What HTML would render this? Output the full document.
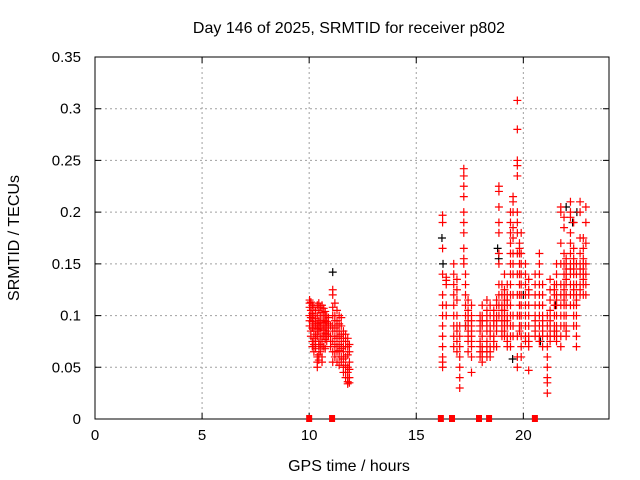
<!DOCTYPE html>
<html><head><meta charset="utf-8"><style>
html,body{margin:0;padding:0;background:#fff;}
svg{display:block;font-family:"Liberation Sans",sans-serif;}
</style></head><body>
<svg id="chart" width="640" height="480" viewBox="0 0 640 480">
<rect x="0" y="0" width="640" height="480" fill="#fff"/>
<g id="grid"></g>
<g id="axes"></g>
<g id="blackPts"></g>
<g id="redPts"></g>
<g id="gaps"></g>
<text x="349" y="33" font-size="16" text-anchor="middle">Day 146 of 2025, SRMTID for receiver p802</text>
<text x="349" y="471" font-size="16" text-anchor="middle">GPS time / hours</text>
<text transform="translate(19,238) rotate(-90)" font-size="16" text-anchor="middle">SRMTID / TECUs</text>
</svg>
<script>
const xTicks = [0,5,10,15,20];
const yTicks = [0,0.05,0.1,0.15,0.2,0.25,0.3,0.35];
const yTickLabels = ["0","0.05","0.1","0.15","0.2","0.25","0.3","0.35"];
const redColHours = [10.02,10.08,10.15,10.22,10.3,10.38,10.45,10.52,10.6,10.68,10.75,10.82,10.9,11.0,11.1,11.2,11.3,11.4,11.5,11.6,11.7,11.8,11.88,
 16.23,16.4,16.75,16.9,17.03,17.22,17.3,17.42,17.58,17.98,18.08,18.3,18.45,18.62,18.75,18.86,19.0,19.12,19.25,19.4,19.52,19.72,19.82,19.9,20.1,20.25,20.55,20.75,20.9,21.12,21.25,21.45,21.55,21.75,21.9,22.0,22.2,22.35,22.48,22.65,22.8,22.92];
const redColValues = [
 [.115,.112,.108,.1,.095,.09],[.113,.105,.098,.085,.08],[.11,.102,.094,.088,.075,.07],[.108,.1,.092,.085,.078,.072,.065],
 [.105,.097,.09,.082,.075,.068],[.11,.1,.092,.087,.08,.06,.055,.05],[.112,.105,.095,.09,.085,.075,.07,.062,.057],[.108,.1,.093,.088,.08,.072,.065],
 [.11,.103,.095,.09,.08,.075,.07,.06,.055],[.107,.1,.093,.086,.08,.07],[.104,.1,.095,.09,.083,.077,.068],[.1,.094,.088,.082,.075],[.098,.092,.085,.08],
 [.09,.08,.075,.07],[.125,.12,.108,.1,.09,.085,.075,.065,.055],[.112,.1,.095,.088,.08,.072,.065,.06],[.105,.095,.09,.085,.078,.07,.065,.055],
 [.1,.092,.085,.08,.072,.066,.06,.052],[.098,.09,.082,.075,.068,.06,.055],[.085,.078,.07,.065,.058,.05,.045],[.082,.075,.07,.06,.052,.045,.04],
 [.078,.07,.062,.05,.045,.04,.036,.034],[.072,.065,.055,.048,.04,.035],
 [.197,.19,.165,.14,.12,.11,.1,.09,.08,.07,.06,.055,.05],[.137,.134,.13,.11,.1],[.15,.14,.13,.12,.11,.1,.09,.08,.07],[.135,.125,.115,.1,.09,.085,.075,.065],
 [.09,.08,.07,.06,.05,.04,.03],[.242,.235,.225,.215,.2,.19,.18,.165,.155,.15],[.14,.13,.12,.11,.1,.09],[.115,.105,.1,.095,.09,.085,.08,.075,.065],
 [.11,.1,.095,.09,.085,.08,.075,.07,.06,.045],[.1,.095,.09,.085,.075,.07,.065,.06],[.11,.1,.095,.09,.08,.07,.065,.06,.055],
 [.115,.105,.1,.095,.09,.085,.075,.07,.065,.06],[.11,.1,.09,.085,.08,.07,.065,.06],[.105,.1,.095,.09,.08,.075,.07],[.115,.11,.1,.095,.09,.085,.07],
 [.225,.22,.205,.19,.18,.16,.15,.13,.12,.11,.1],[.13,.12,.11,.105,.1,.095,.09,.085,.08],[.14,.125,.12,.115,.11,.105,.1,.095,.09,.085,.08],
 [.13,.12,.115,.11,.1,.095,.09,.08,.075,.07],[.2,.19,.18,.17,.16,.15,.14,.13,.12,.11,.1,.09,.08,.07],[.215,.21,.2,.185,.175,.16,.15,.14,.12,.1,.09,.08],
 [.308,.28,.25,.245,.235,.2,.19,.18,.16,.14,.12,.1,.08,.06,.05],[.17,.165,.16,.15,.14,.13,.12,.11,.1,.09,.085],[.18,.16,.15,.14,.13,.12,.11,.1,.09,.08,.07,.06],
 [.15,.14,.13,.12,.11,.1,.09,.08,.075],[.135,.125,.12,.11,.1,.09,.08,.075,.07,.047],[.14,.13,.12,.11,.1,.095,.09,.085,.08],
 [.16,.15,.14,.13,.12,.11,.1,.09,.08,.075],[.13,.12,.11,.1,.095,.09,.085,.08,.07],[.1,.09,.08,.07,.06,.05,.04,.035,.025],
 [.135,.125,.115,.105,.1,.095,.09,.085,.08,.075],[.13,.125,.12,.11,.1,.09,.085,.08],[.15,.14,.13,.12,.115,.11,.1,.09,.085,.08,.075],
 [.205,.2,.17,.15,.13,.12,.11,.1,.09,.08,.07],[.195,.185,.16,.15,.14,.13,.125,.12,.115,.11,.1,.09],[.155,.15,.145,.14,.135,.13,.12,.11,.1,.09,.085,.08],
 [.21,.2,.195,.18,.17,.16,.15,.145,.14,.13,.12,.11],[.19,.165,.155,.15,.145,.14,.13,.125,.12,.11,.1,.09],[.15,.14,.13,.12,.115,.11,.1,.09,.08,.07],
 [.21,.2,.175,.16,.15,.145,.14,.13,.125,.12],[.175,.165,.155,.15,.145,.14,.135,.13,.12],[.205,.19,.17,.15,.14,.13,.12]
];
const blackHours = [11.1,16.2,16.25,18.8,18.85,19.5,20.0,21.5,22.0,22.3,22.5,17.3,20.8];
const blackValues = [.142,.175,.15,.165,.155,.058,.12,.11,.205,.19,.2,.09,.075];
const gapHours = [10.0,11.07,16.15,16.67,17.93,18.4,20.54];

const L=95,R=609,T=57,B=419,XMAX=24,YMAX=0.35;
const xs=h=>L+(R-L)*h/XMAX, ys=v=>B-(B-T)*v/YMAX;
const NS='http://www.w3.org/2000/svg';
function mk(tag,attrs,parent){const e=document.createElementNS(NS,tag);for(const k in attrs)e.setAttribute(k,attrs[k]);parent.appendChild(e);return e;}
const grid=document.getElementById('grid'),axes=document.getElementById('axes');
xTicks.forEach(t=>{const x=xs(t);
 if(t>0){const g=mk('line',{x1:x,x2:x,y1:T,y2:B,stroke:'#a0a0a0','stroke-dasharray':'2,3'},grid);}
 const tk=mk('path',{d:`M${x},${B}v-6M${x},${T}v6`,stroke:'#000'},axes);
 const lb=mk('text',{x:x,y:B+21,'font-size':15,'text-anchor':'middle'},axes);lb.textContent=String(t);
 });
yTicks.forEach((t,i)=>{const y=ys(t);
 if(t>0&&t<YMAX){const g=mk('line',{x1:L,x2:R,y1:y,y2:y,stroke:'#a0a0a0','stroke-dasharray':'2,3'},grid);}
 const tk=mk('path',{d:`M${L},${y}h6M${R},${y}h-6`,stroke:'#000'},axes);
 const lb=mk('text',{x:L-14,y:y+5,'font-size':15,'text-anchor':'end'},axes);lb.textContent=yTickLabels[i];
 });
const fr=mk('rect',{x:L,y:T,width:R-L,height:B-T,fill:'none',stroke:'#000'},axes);

function plus(g,h,v,c){const x=xs(h),y=ys(v);const p=mk('path',{d:`M${x-4},${y}h8M${x},${y-4}v8`,stroke:c,'stroke-width':1.2},g);return p;}
const bg=document.getElementById('blackPts');
blackHours.forEach((h,i)=>{const p=plus(bg,h,blackValues[i],'#000');
 });
const rg=document.getElementById('redPts');
redColHours.forEach((h,i)=>{redColValues[i].forEach(v=>{const p=plus(rg,h,v,'#f00');
 });});
const gg=document.getElementById('gaps');
gapHours.forEach(h=>{const r=mk('rect',{x:xs(h)-3,y:B-4,width:6,height:7,fill:'#f00'},gg);
 });
</script>
</body></html>
